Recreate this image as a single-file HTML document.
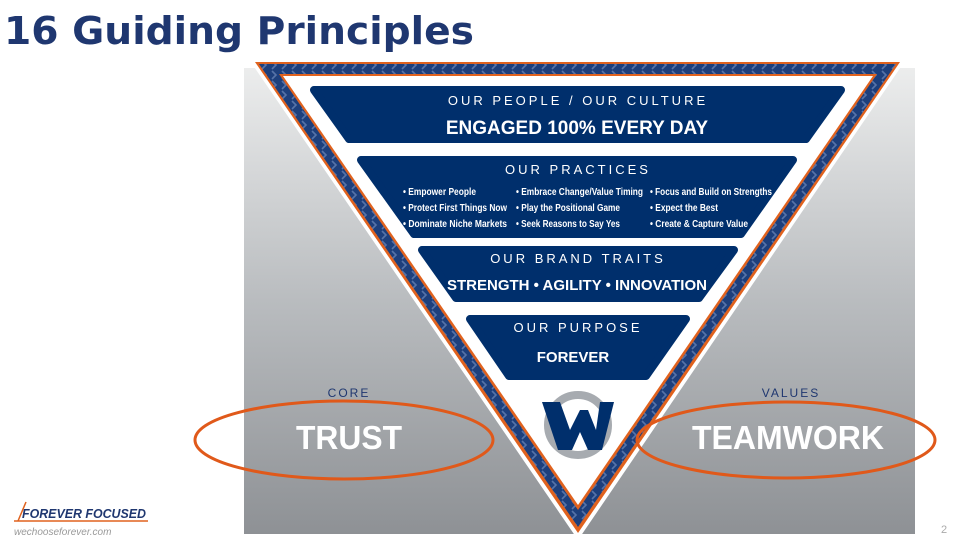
<!DOCTYPE html>
<html><head><meta charset="utf-8"><style>
body{margin:0;width:960px;height:540px;overflow:hidden;background:#fff;font-family:"Liberation Sans",Arial,sans-serif}
</style></head><body>
<svg width="960" height="540" viewBox="0 0 960 540" xmlns="http://www.w3.org/2000/svg" style="position:absolute;left:0;top:0">
<defs>
<linearGradient id="g" x1="0" y1="0" x2="0" y2="1">
<stop offset="0" stop-color="#eceded"/><stop offset="0.5" stop-color="#b9bcbf"/><stop offset="1" stop-color="#8e9195"/>
</linearGradient>
<pattern id="chev" width="10" height="10" patternUnits="userSpaceOnUse">
<rect width="10" height="10" fill="#1d3f7c"/>
<path d="M2 1 L6 5 L2 9" stroke="#5673a8" stroke-width="1.6" fill="none"/>
</pattern>
</defs>
<text x="4" y="44" font-family="DejaVu Sans, sans-serif" font-weight="bold" font-size="38" fill="#1f3770" textLength="470" lengthAdjust="spacingAndGlyphs">16 Guiding Principles</text>
<rect x="244" y="68" width="671" height="466" fill="url(#g)"/>
<polygon points="248,58 907,58 578,540" fill="#fff"/>
<polygon points="255,62 900,62 578,533" fill="#e0621e"/>
<polygon points="259,64 896,64 578,527" fill="url(#chev)"/>
<polygon points="279,74 877,74 578,510" fill="#e0621e"/>
<polygon points="283,76 873,76 578,505" fill="#fff"/>
<g fill="#002f6c" stroke="#002f6c" stroke-width="8" stroke-linejoin="round">
<polygon points="314,90 841,90 806,139 349,139"/>
<polygon points="361,160 793,160 741,234 414,234"/>
<polygon points="422,250 734,250 699,298 456,298"/>
<polygon points="470,319 686,319 646,376 509,376"/>
</g>
<g fill="#fff" text-anchor="middle" font-family="Liberation Sans, sans-serif">
<text x="578" y="105" font-size="13" letter-spacing="3">OUR PEOPLE / OUR CULTURE</text>
<text x="577" y="134" font-size="19" font-weight="bold">ENGAGED 100% EVERY DAY</text>
<text x="578" y="174" font-size="13" letter-spacing="3">OUR PRACTICES</text>
<text x="578" y="263" font-size="13" letter-spacing="3">OUR BRAND TRAITS</text>
<text x="577" y="290" font-size="15" font-weight="bold">STRENGTH • AGILITY • INNOVATION</text>
<text x="578" y="332" font-size="13" letter-spacing="3">OUR PURPOSE</text>
<text x="573" y="362" font-size="15" font-weight="bold">FOREVER</text>
</g>
<g fill="#fff" font-size="10" font-weight="bold" font-family="Liberation Sans, sans-serif">
<text x="403" y="195" textLength="73" lengthAdjust="spacingAndGlyphs">• Empower People</text>
<text x="403" y="211" textLength="104" lengthAdjust="spacingAndGlyphs">• Protect First Things Now</text>
<text x="403" y="227" textLength="104" lengthAdjust="spacingAndGlyphs">• Dominate Niche Markets</text>
<text x="516" y="195" textLength="127" lengthAdjust="spacingAndGlyphs">• Embrace Change/Value Timing</text>
<text x="516" y="211" textLength="104" lengthAdjust="spacingAndGlyphs">• Play the Positional Game</text>
<text x="516" y="227" textLength="104" lengthAdjust="spacingAndGlyphs">• Seek Reasons to Say Yes</text>
<text x="650" y="195" textLength="122" lengthAdjust="spacingAndGlyphs">• Focus and Build on Strengths</text>
<text x="650" y="211" textLength="68" lengthAdjust="spacingAndGlyphs">• Expect the Best</text>
<text x="650" y="227" textLength="98" lengthAdjust="spacingAndGlyphs">• Create &amp; Capture Value</text>
</g>
<circle cx="578" cy="425" r="30" fill="none" stroke="#a7abb0" stroke-width="8"/>
<path d="M542 402 L560 402 L570 430 L580 410 L588 410 L596 430 L600 402 L614 402 L602 450 L588 450 L580 432 L572 450 L558 450 Z" fill="#002f6c"/>
<text x="349" y="397" text-anchor="middle" font-size="12" letter-spacing="2" fill="#1f3770">CORE</text>
<text x="791" y="397" text-anchor="middle" font-size="12" letter-spacing="2" fill="#1f3770">VALUES</text>
<text x="296" y="449" font-size="33" font-weight="bold" fill="#fff" textLength="106" lengthAdjust="spacingAndGlyphs">TRUST</text>
<text x="692" y="449" font-size="33" font-weight="bold" fill="#fff" textLength="192" lengthAdjust="spacingAndGlyphs">TEAMWORK</text>
<ellipse cx="344" cy="440" rx="149" ry="39" fill="none" stroke="#e0591a" stroke-width="3"/>
<ellipse cx="786" cy="440" rx="149" ry="38" fill="none" stroke="#e0591a" stroke-width="3"/>
<line x1="26" y1="502" x2="18" y2="521" stroke="#e0621e" stroke-width="1.5"/>
<line x1="14" y1="521" x2="148" y2="521" stroke="#e0621e" stroke-width="1.5"/>
<text x="22" y="518" font-size="13" font-weight="bold" font-style="italic" fill="#1f3770" textLength="124" lengthAdjust="spacingAndGlyphs">FOREVER FOCUSED</text>
<text x="14" y="535" font-size="10" font-style="italic" fill="#999">wechooseforever.com</text>
<text x="941" y="533" font-size="11" fill="#aaa">2</text>
</svg>
</body></html>
